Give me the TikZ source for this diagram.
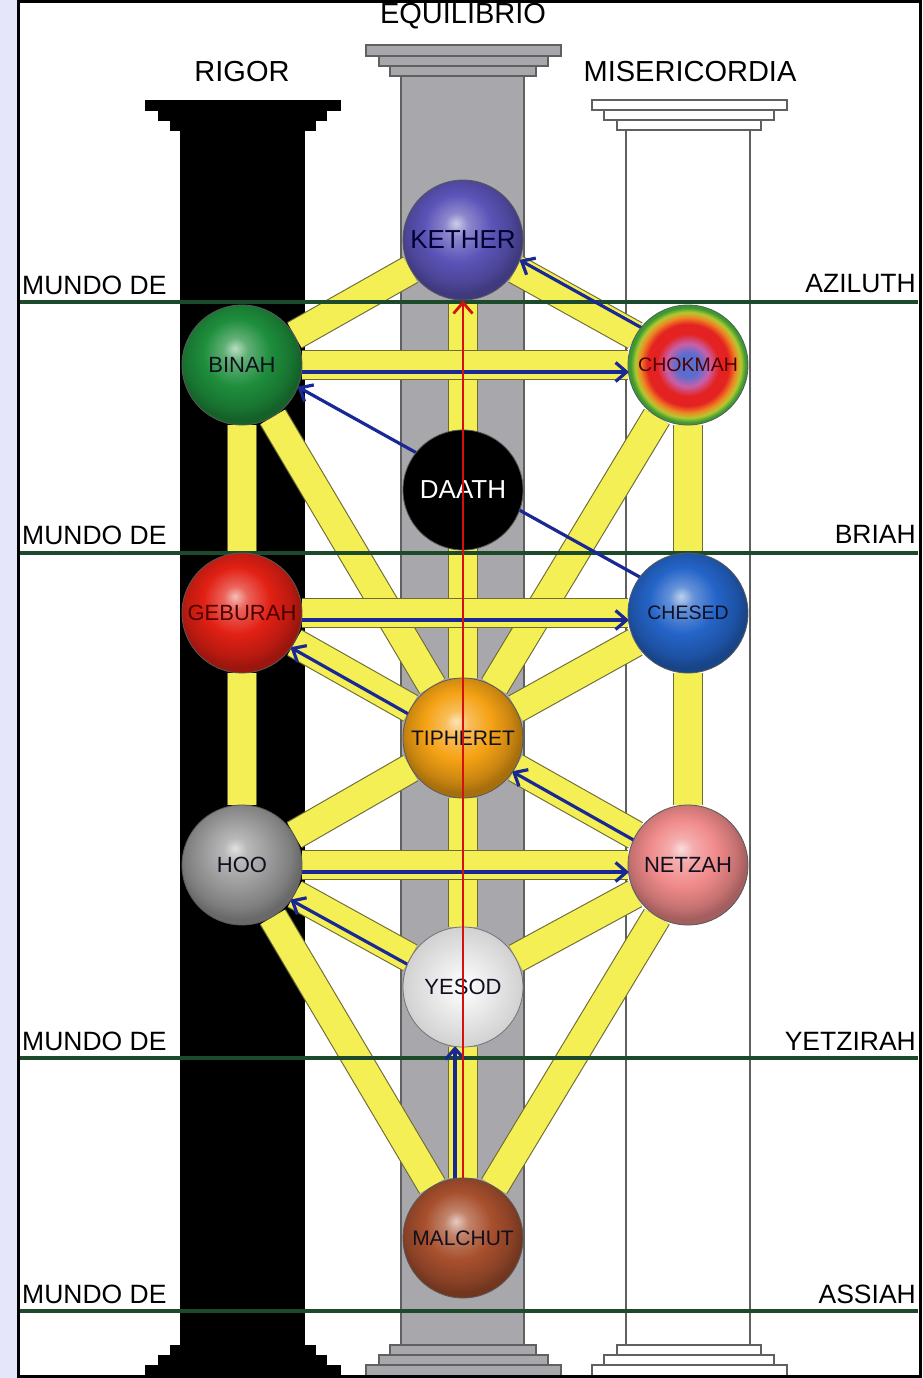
\documentclass[tikz,border=0pt]{standalone}
\usepackage{fontspec}
\setmainfont{Liberation Sans}
\usetikzlibrary{calc,arrows.meta}
\definecolor{lav}{HTML}{E6E6FA}
\definecolor{grn}{HTML}{1E4A2C}
\definecolor{yel}{HTML}{F3EF55}
\definecolor{barline}{HTML}{6E6C34}
\definecolor{pgray}{HTML}{A8A8AC}
\definecolor{pedge}{HTML}{606060}
\definecolor{arrblue}{HTML}{1A2896}
\definecolor{arrred}{HTML}{D41010}
\definecolor{ckether}{HTML}{5C54B8}
\definecolor{cbinah}{HTML}{1E8E3C}
\definecolor{cgeburah}{HTML}{E22014}
\definecolor{cchesed}{HTML}{2464C8}
\definecolor{ctiph}{HTML}{F5A214}
\definecolor{chod}{HTML}{9A9A9A}
\definecolor{cnetzah}{HTML}{F08A8A}
\definecolor{cmalchut}{HTML}{A8502E}
\definecolor{chb}{HTML}{5B6ED0}
\definecolor{chv}{HTML}{C860A8}
\definecolor{chr}{HTML}{E42222}
\definecolor{cho}{HTML}{EE8A22}
\definecolor{chy}{HTML}{B4C832}
\definecolor{chg}{HTML}{3A9A30}
\definecolor{txt}{HTML}{101020}
\colorlet{ballc}{red}
\pgfdeclareradialshading[ballc]{sphere}{\pgfpoint{-3bp}{7bp}}{color(0bp)=(ballc!30!white); color(5bp)=(ballc!70!white); color(14bp)=(ballc); color(22bp)=(ballc!82!black); color(26bp)=(ballc!68!black); color(50bp)=(ballc!68!black)}
\pgfdeclareradialshading{chokshade}{\pgfpoint{0bp}{0bp}}{color(0bp)=(chb); color(5bp)=(chb); color(9bp)=(chv); color(13bp)=(chr); color(17bp)=(chr); color(20bp)=(cho); color(22bp)=(chy); color(24bp)=(chg); color(50bp)=(chg)}
\pgfdeclarelayer{pillars}
\pgfdeclarelayer{paths}
\pgfdeclarelayer{front}
\pgfsetlayers{pillars,paths,main,front}
\tikzset{
  sef/.style={circle, minimum size=120pt, inner sep=0pt, draw=black!65, line width=0.8pt,
    font=\fontsize{22}{22}\selectfont, text=txt},
  sph/.style={shading=sphere, /utils/exec={\colorlet{ballc}{#1}}},
  bar/.style={draw=barline, line width=1.1pt, double=yel, double distance=28pt},
  world/.style={draw=grn, line width=3.2pt},
  blarr/.style={draw=arrblue, line width=3.2pt, -{Straight Barb[length=11pt,width=19pt]},
    shorten <=59pt, shorten >=59pt},
  redarr/.style={draw=arrred, line width=2.8pt, -{Straight Barb[length=11pt,width=19pt]}},
  head/.style={font=\fontsize{29}{29}\selectfont, text=black},
  wl/.style={font=\fontsize{26.5}{26.5}\selectfont, text=black, anchor=west, inner sep=0pt},
  wr/.style={font=\fontsize{26.5}{26.5}\selectfont, text=black, anchor=east, inner sep=0pt},
  blk/.style={fill=black},
  gry/.style={fill=pgray, draw=pedge, line width=1.2pt},
  wht/.style={fill=white, draw=pedge, line width=1.2pt}
}
\begin{document}
\begin{tikzpicture}[x=1pt, y=-1pt]
\useasboundingbox (0,0) rectangle (923,1378);
\begin{pgfonlayer}{pillars}
  \fill[lav] (0,0) rectangle (17,1378);
  \fill[white] (17,0) rectangle (923,1378);
  % black pillar
  \fill[blk] (145,100) rectangle (341,111);
  \fill[blk] (158,111) rectangle (327,121);
  \fill[blk] (170,121) rectangle (316,131);
  \fill[blk] (180,130) rectangle (305,1346);
  \fill[blk] (170,1345) rectangle (316,1356);
  \fill[blk] (158,1355) rectangle (327,1366);
  \fill[blk] (145,1365) rectangle (341,1377);
  % gray pillar
  \draw[gry] (401,76) rectangle (524,1345);
  \draw[gry] (366,45) rectangle (561,56);
  \draw[gry] (379,56) rectangle (548,66);
  \draw[gry] (390,66) rectangle (536,76);
  \draw[gry] (390,1345) rectangle (536,1355);
  \draw[gry] (379,1355) rectangle (548,1365);
  \draw[gry] (366,1365) rectangle (561,1376);
  % white pillar
  \draw[wht] (626,130) rectangle (750,1345);
  \draw[wht] (592,100) rectangle (787,110);
  \draw[wht] (604,110) rectangle (774,120);
  \draw[wht] (617,120) rectangle (761,130);
  \draw[wht] (617,1345) rectangle (761,1355);
  \draw[wht] (604,1355) rectangle (774,1365);
  \draw[wht] (592,1365) rectangle (787,1376);
  \draw[black, line width=3.5pt] (18.5,1.5) rectangle (920.5,1376.5);
\end{pgfonlayer}

% titles
\node[head] (teq) at (463,16) {EQUILIBRIO};
\node[head] (trig) at (242,72) {RIGOR};
\node[head] (tmis) at (690,72) {MISERICORDIA};

% world labels
\node[wl] (l1) at (22,285) {MUNDO DE};
\node[wl] (l2) at (22,535) {MUNDO DE};
\node[wl] (l3) at (22,1041) {MUNDO DE};
\node[wl] (l4) at (22,1294) {MUNDO DE};
\node[wr] (r1) at (916,284) {AZILUTH};
\node[wr] (r2) at (916,534) {BRIAH};
\node[wr] (r3) at (916,1041) {YETZIRAH};
\node[wr] (r4) at (916,1294) {ASSIAH};
\coordinate (w1a) at (20,302); \coordinate (w1b) at (918,302);
\coordinate (w2a) at (20,553); \coordinate (w2b) at (918,553);
\coordinate (w3a) at (20,1058); \coordinate (w3b) at (918,1058);
\coordinate (w4a) at (20,1311); \coordinate (w4b) at (918,1311);

% sephiroth
\node[sef, sph=ckether, font=\fontsize{26}{26}\selectfont, text=black!80!blue] (kether) at (463,240) {KETHER};
\node[sef, sph=cbinah] (binah) at (242,365) {BINAH};
\node[sef, shading=chokshade, font=\fontsize{19.5}{19.5}\selectfont, text=black!70!red] (chokmah) at (688,365) {CHOKMAH};
\node[sef, fill=black, text=white, font=\fontsize{26}{26}\selectfont] (daath) at (463,490) {DAATH};
\node[sef, sph=cgeburah, text=black!70!red, font=\fontsize{22}{22}\selectfont] (geburah) at (242,613) {GEBURAH};
\node[sef, sph=cchesed, font=\fontsize{19.5}{19.5}\selectfont] (chesed) at (688,613) {CHESED};
\node[sef, sph=ctiph, font=\fontsize{21}{21}\selectfont] (tiph) at (463,738) {TIPHERET};
\node[sef, sph=chod] (hod) at (242,865) {HOO};
\node[sef, sph=cnetzah] (netzah) at (688,865) {NETZAH};
\node[sef, shading=radial, inner color=white, outer color=white!82!black, draw=black!55] (yesod) at (463,987) {YESOD};
\node[sef, sph=cmalchut, font=\fontsize{21}{21}\selectfont] (malchut) at (463,1238) {MALCHUT};

\begin{pgfonlayer}{paths}
  \foreach \a/\b in {kether/binah, kether/chokmah, kether/tiph, binah/chokmah,
      binah/geburah, binah/tiph, chokmah/chesed, chokmah/tiph, geburah/chesed,
      geburah/tiph, chesed/tiph, geburah/hod, chesed/netzah, tiph/hod, tiph/netzah,
      tiph/yesod, hod/netzah, hod/yesod, netzah/yesod, hod/malchut, netzah/malchut,
      yesod/malchut}
    \draw[bar] (\a) -- (\b);
  \draw[world] (w1a) -- (w1b);
  \draw[world] (w2a) -- (w2b);
  \draw[world] (w3a) -- (w3b);
  \draw[world] (w4a) -- (w4b);
  % blue arrows (offset to the right of travel)
  \draw[blarr] ($(binah)!7pt!-90:(chokmah)$) -- ($(chokmah)!7pt!90:(binah)$);
  \draw[blarr] ($(chokmah)!10pt!-90:(kether)$) -- ($(kether)!10pt!90:(chokmah)$);
  \draw[blarr] ($(chesed)!8pt!-90:(binah)$) -- ($(binah)!8pt!90:(chesed)$);
  \draw[blarr] ($(geburah)!7pt!-90:(chesed)$) -- ($(chesed)!7pt!90:(geburah)$);
  \draw[blarr] ($(hod)!7pt!-90:(netzah)$) -- ($(netzah)!7pt!90:(hod)$);
  % blue arrows (offset to the left of travel)
  \draw[blarr] ($(tiph)!6pt!90:(geburah)$) -- ($(geburah)!6pt!-90:(tiph)$);
  \draw[blarr] ($(netzah)!5pt!90:(tiph)$) -- ($(tiph)!5pt!-90:(netzah)$);
  \draw[blarr] ($(yesod)!7pt!90:(hod)$) -- ($(hod)!7pt!-90:(yesod)$);
  \draw[blarr] ($(malchut)!8pt!90:(yesod)$) -- ($(yesod)!8pt!-90:(malchut)$);
\end{pgfonlayer}

\begin{pgfonlayer}{front}
  \draw[redarr] (malchut.north) -- (kether.south);
\end{pgfonlayer}
\end{tikzpicture}
\end{document}
